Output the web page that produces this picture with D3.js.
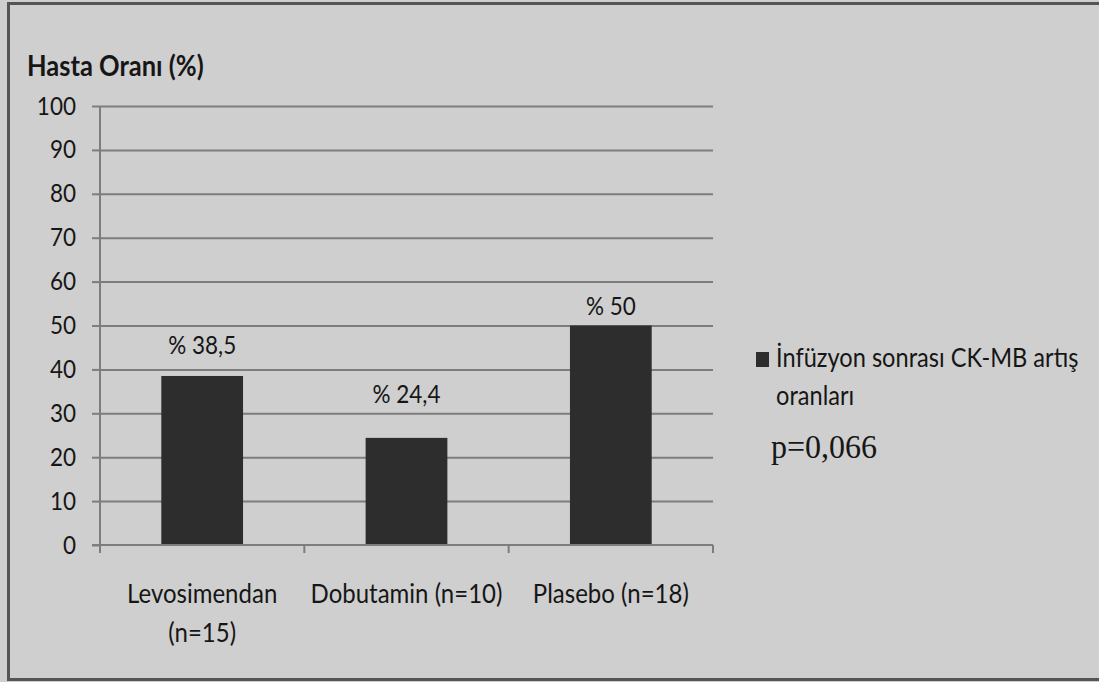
<!DOCTYPE html>
<html>
<head>
<meta charset="utf-8">
<script src="https://cdn.jsdelivr.net/npm/d3@7"></script>
<style>
  html, body { margin: 0; padding: 0; background: #cfcfcf; }
  svg { display: block; }
</style>
</head>
<body>
<svg id="chart" width="1099" height="682"></svg>
<script>
// Chart data
const categories = ["Levosimendan (n=15)", "Dobutamin (n=10)", "Plasebo (n=18)"];
const values = [38.5, 24.4, 50];
const yTicks = [0, 10, 20, 30, 40, 50, 60, 70, 80, 90, 100];
const yTitle = "Hasta Oranı (%)";
const seriesName = "İnfüzyon sonrası CK-MB artış oranları";
const pValueText = "p=0,066";

// Distance of each value label's baseline above its bar
const labelGap = [22, 35, 11];

const W = 1099, H = 682;
const plot = { left: 100, right: 713, top: 106, bottom: 545 };
const font = "Lato, 'Open Sans', sans-serif";
const sy = 1.15; // vertical stretch of text glyphs
const textColor = "#161616";
const gridColor = "#7d7d7d";
const barColor = "#2d2d2d";

const svg = d3.select("#chart");

// Background and frame
svg.append("rect").attr("x", 0).attr("y", 0).attr("width", W).attr("height", H).attr("fill", "#cfcfcf");
svg.append("rect").attr("x", 8.5).attr("y", 3.5).attr("width", W + 20).attr("height", 676)
  .attr("fill", "none").attr("stroke", "#555").attr("stroke-width", 3);

const x = d3.scaleBand().domain(categories).range([plot.left, plot.right])
  .paddingInner(0.6).paddingOuter(0.3);
const y = d3.scaleLinear().domain([0, 100]).range([plot.bottom, plot.top]);

function addText(g, str, tx, ty, opts = {}) {
  return g.append("text")
    .attr("transform", `translate(${tx},${ty}) scale(1,${opts.sy ?? sy})`)
    .attr("text-anchor", opts.anchor || "start")
    .attr("font-family", opts.family || font)
    .attr("font-size", opts.size || 22)
    .attr("font-weight", opts.weight || "normal")
    .attr("fill", textColor)
    .text(str);
}

// Horizontal gridlines + y axis
const yAxis = d3.axisLeft(y).tickValues(yTicks).tickSize(8).tickFormat(d => d);
const yG = svg.append("g").attr("transform", `translate(${plot.left},0)`).call(yAxis);
yG.select(".domain").remove();
yG.selectAll(".tick line").attr("stroke", gridColor).attr("stroke-width", 2);
yG.selectAll(".tick").each(function(d) {
  const t = d3.select(this);
  t.select("text").remove();
  if (d > 0) {
    t.append("line").attr("x1", 0).attr("x2", plot.right - plot.left)
      .attr("stroke", gridColor).attr("stroke-width", 2);
  }
  addText(t, d, -24, 8, { anchor: "end", size: 22.5 });
});

// Vertical axis line
svg.append("line").attr("x1", plot.left).attr("x2", plot.left)
  .attr("y1", plot.top).attr("y2", plot.bottom + 8)
  .attr("stroke", gridColor).attr("stroke-width", 2);

// Bars
svg.append("g").selectAll("rect").data(values).join("rect")
  .attr("x", (d, i) => x(categories[i]))
  .attr("y", d => y(d))
  .attr("width", x.bandwidth())
  .attr("height", d => y(0) - y(d))
  .attr("fill", barColor);

// Category axis
const xAxis = d3.axisBottom(x).tickSize(0).tickFormat("");
const xG = svg.append("g").attr("transform", `translate(0,${plot.bottom})`).call(xAxis);
xG.select(".domain").attr("stroke", gridColor).attr("stroke-width", 2)
  .attr("d", `M${plot.left - 8},0H${plot.right}`);
const step = x.step();
const sepXs = d3.range(categories.length + 1).map(i => plot.left + i * (plot.right - plot.left) / categories.length);
xG.selectAll("line.sep").data(sepXs).join("line").attr("class", "sep")
  .attr("x1", d => d).attr("x2", d => d).attr("y1", 0).attr("y2", 8)
  .attr("stroke", gridColor).attr("stroke-width", 2);

// Category labels, wrapped when wider than the band
const catSize = 24;
const measure = svg.append("text").attr("font-family", font).attr("font-size", catSize).attr("visibility", "hidden");
function widthOf(s) { measure.text(s); return measure.node().getComputedTextLength(); }
categories.forEach(c => {
  const cx = x(c) + x.bandwidth() / 2;
  const words = c.split(" ");
  const lines = [];
  let cur = "";
  words.forEach(w => {
    const test = cur ? cur + " " + w : w;
    if (widthOf(test) > step && cur) { lines.push(cur); cur = w; } else cur = test;
  });
  lines.push(cur);
  lines.forEach((ln, k) => addText(svg, ln, cx, 603 + k * 39, { anchor: "middle", size: catSize }));
});
measure.remove();

// Value labels
values.forEach((v, i) => {
  const cx = x(categories[i]) + x.bandwidth() / 2;
  const txt = "% " + String(v).replace(".", ",");
  addText(svg, txt, cx, y(v) - labelGap[i], { anchor: "middle", size: 22.5 });
});

// Y title
addText(svg, yTitle, 27, 76, { size: 25.5, weight: "bold" });

// Legend
svg.append("rect").attr("x", 756).attr("y", 352).attr("width", 13).attr("height", 15).attr("fill", barColor);
const lgWords = seriesName.split(" ");
addText(svg, lgWords.slice(0, 4).join(" "), 776, 367, { size: 23.6 });
addText(svg, lgWords.slice(4).join(" "), 776, 405, { size: 23.6 });

// p-value note
addText(svg, pValueText, 771, 458, { size: 32, family: "'Liberation Serif', 'Times New Roman', serif", sy: 1.05 });
</script>
</body>
</html>
